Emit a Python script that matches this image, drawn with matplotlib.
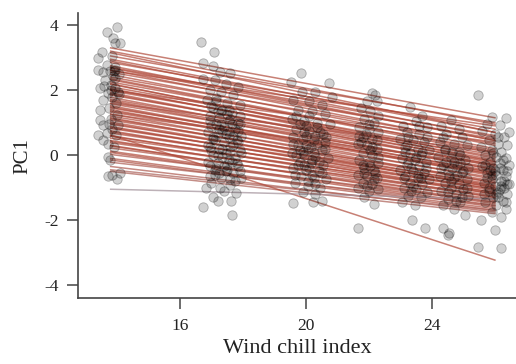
import numpy as np
import matplotlib
matplotlib.use('Agg')
import matplotlib.pyplot as plt
from matplotlib.colors import LinearSegmentedColormap

# Individual regression lines: fitted PC1 at the start and end of the range
LINE_X0 = 13.8
LINE_X1 = 26.0
line_start = [3.30, 3.20, 3.15, 3.05, 2.95, 2.90, 2.85, 2.75, 2.70, 2.68, 2.62, 2.60,
              2.55, 2.48, 2.40, 2.35, 2.32, 2.25, 2.20, 2.18, 2.10, 2.05, 2.02, 2.00,
              1.98, 1.92, 1.88, 1.85, 1.78, 1.72, 1.68, 1.65, 1.60, 1.58, 1.52, 1.48,
              1.45, 1.40, 1.36, 1.33, 1.27, 1.25, 1.20, 1.15, 1.12, 1.08, 1.02, 0.98,
              0.95, 0.88, 0.85, 0.82, 0.75, 0.72, 0.68, 0.60, 0.58, 0.52, 0.45, 0.42,
              0.38, 0.30, 0.28, 0.22, 0.12, 0.08, 0.02, -0.10, -0.15, -0.22, -0.35, -0.45,
              -0.50, 0.62, -1.05]
line_end = [1.15, 0.95, 0.70, 1.00, 0.70, 0.55, 0.80, 0.45, 0.60, 0.45, 0.30, 0.90,
            0.50, 0.20, 0.35, 0.10, 0.05, 0.15, -0.20, -0.10, 0.00, -0.25, -0.15, 0.40,
            -0.05, -0.35, -0.30, -0.20, -0.45, -0.30, -0.45, -0.55, 0.10, -0.40, -0.65, -0.60,
            -0.50, -0.75, -0.55, -0.60, -0.85, -0.30, -0.70, -0.95, -0.85, -0.80, -1.00, -1.00,
            -0.90, -1.10, -1.05, -0.95, -1.20, -1.15, -1.05, -1.30, -1.20, -1.15, -1.40, -1.30,
            -1.25, -1.50, -1.45, -1.35, -1.55, -1.60, -1.45, -1.65, -1.70, -1.55, -1.75, -1.70,
            -1.80, -3.23, -1.35]

# Observations, grouped by sampling occasion (wind chill index, PC1)
grp_a_x = [14.00, 13.68, 13.87, 13.94, 14.10, 13.52, 13.40, 13.85, 13.68, 13.40, 13.78, 13.95,
           13.55, 13.88, 14.05, 13.94, 13.62, 13.46, 13.94, 13.80, 14.02, 13.70, 13.85, 13.56,
           13.98, 13.46, 13.75, 14.00, 13.46, 13.80, 13.56, 14.02, 13.68, 13.40, 13.98, 13.85,
           13.56, 13.72, 13.90, 13.78, 13.72, 13.85, 14.00, 13.70, 14.10, 13.90, 13.60, 13.95,
           13.82, 14.05, 13.75]
grp_a_y = [3.94, 3.78, 3.60, 3.45, 3.45, 3.17, 2.98, 3.05, 2.77, 2.62, 2.60, 2.70,
           2.55, 2.45, 2.50, 2.37, 2.30, 2.06, 2.06, 2.15, 1.95, 1.90, 1.80, 1.70,
           1.60, 1.38, 1.45, 1.23, 1.08, 1.10, 0.92, 0.92, 0.68, 0.62, 0.62, 0.80,
           0.46, 0.35, 0.25, -0.15, -0.06, -0.60, -0.75, -0.65, -0.55, 2.58, 2.12, 2.62,
           2.00, 1.88, 0.95]

grp_b_x = [16.67, 17.08, 16.73, 17.05, 17.27, 17.60, 16.73, 17.10, 17.45, 17.85, 16.95, 17.30,
           17.70, 16.85, 17.15, 17.50, 17.90, 17.05, 17.35, 17.65, 16.95, 17.25, 17.55, 17.85,
           17.00, 17.40, 17.75, 16.90, 17.20, 17.55, 17.95, 17.10, 17.40, 17.70, 16.95, 17.25,
           17.60, 17.90, 17.05, 17.35, 17.75, 16.90, 17.20, 17.50, 17.85, 17.10, 17.45, 17.70,
           16.95, 17.30, 17.60, 17.95, 16.83, 17.27, 17.60, 17.78, 17.05, 17.20, 17.62, 16.73,
           17.65, 17.40, 17.15, 17.50, 17.80, 17.00, 17.45, 17.20, 17.65, 17.05, 17.35, 17.55,
           17.90, 17.15]
grp_b_y = [3.47, 3.17, 2.83, 2.74, 2.55, 2.52, 2.34, 2.30, 2.20, 2.10, 2.00, 1.95,
           1.85, 1.70, 1.75, 1.60, 1.55, 1.45, 1.40, 1.30, 1.20, 1.15, 1.05, 1.00,
           0.90, 0.85, 0.80, 0.70, 0.65, 0.55, 0.60, 0.45, 0.40, 0.30, 0.25, 0.20,
           0.10, 0.15, 0.00, -0.05, -0.10, -0.20, -0.25, -0.30, -0.35, -0.45, -0.50, -0.55,
           -0.65, -0.70, -0.75, -0.70, -1.00, -1.00, -0.92, -1.17, -1.30, -1.40, -1.40, -1.60,
           -1.85, -1.10, 0.95, 1.25, 0.45, -0.85, 0.05, 1.35, 0.95, 0.55, 0.75, -0.15,
           1.20, -0.40]
grp_b_core_x = [17.00, 17.30, 17.60, 17.90, 16.95, 17.25, 17.55, 17.85, 17.05, 17.35, 17.65, 17.95,
                16.90, 17.20, 17.50, 17.80, 17.10, 17.40, 17.70, 17.00, 17.30, 17.60, 17.90, 16.95,
                17.25, 17.55, 17.85, 17.15, 17.45, 17.75]
grp_b_core_y = [1.50, 1.35, 1.10, 0.95, 1.05, 0.80, 0.70, 0.40, 0.50, 0.20, -0.20, 0.05,
                0.30, 0.00, -0.45, -0.25, -0.60, -0.35, 0.60, 0.15, 0.95, 0.25, -0.50, -0.35,
                -0.55, 1.40, 0.75, 1.65, 0.65, -0.80]

grp_c_x = [19.84, 19.52, 20.73, 19.87, 20.28, 20.82, 19.60, 20.10, 20.50, 19.75, 20.20, 20.60,
           19.55, 19.95, 20.35, 20.75, 19.70, 20.10, 20.45, 19.60, 19.90, 20.25, 20.60, 19.75,
           20.15, 20.50, 19.55, 19.95, 20.30, 20.70, 19.80, 20.15, 20.55, 19.60, 20.00, 20.40,
           19.85, 20.25, 20.65, 19.65, 20.05, 20.45, 19.90, 20.30, 19.59, 20.22, 20.50, 20.00,
           20.35, 19.80, 20.20, 20.10, 19.95, 20.05]
grp_c_y = [2.52, 2.25, 2.22, 1.95, 1.95, 1.80, 1.70, 1.65, 1.55, 1.40, 1.35, 1.25,
           1.10, 1.05, 1.00, 0.95, 0.80, 0.75, 0.70, 0.55, 0.50, 0.45, 0.40, 0.30,
           0.25, 0.15, 0.05, 0.00, -0.05, -0.10, -0.20, -0.25, -0.30, -0.40, -0.45, -0.50,
           -0.65, -0.70, -0.75, -0.86, -0.95, -1.00, -1.15, -1.20, -1.48, -1.45, -1.40, 0.60,
           0.35, 0.15, -0.60, 1.20, -0.30, 0.20]
grp_c_core_x = [19.70, 20.00, 20.30, 20.60, 19.60, 19.90, 20.20, 20.50, 19.75, 20.05, 20.35, 20.65,
                19.65, 19.95, 20.25, 20.55, 19.80, 20.10, 20.40, 19.70, 20.00, 20.30]
grp_c_core_y = [1.20, 0.90, 0.60, 0.20, 0.35, 0.10, -0.15, -0.55, -0.30, -0.80, 0.85, 0.55,
                -0.60, 0.70, 0.05, 0.65, 0.95, -0.40, -0.20, 0.00, 0.30, -0.90]

grp_d_x = [22.10, 22.20, 21.95, 22.25, 21.75, 22.05, 22.30, 21.85, 22.15, 21.70, 22.00, 22.30,
           21.80, 22.10, 21.65, 21.95, 22.25, 21.80, 22.10, 21.70, 22.00, 22.30, 21.85, 22.15,
           21.65, 21.95, 22.25, 21.80, 22.10, 21.65, 22.00, 22.30, 21.85, 21.65, 22.15, 21.90,
           22.05, 21.75, 22.05, 22.30, 21.85, 22.15, 21.70, 22.00, 22.25, 21.80, 22.10, 21.95,
           22.20]
grp_d_y = [1.90, 1.85, 1.65, 1.65, 1.45, 1.35, 1.20, 1.10, 1.00, 0.85, 0.80, 0.70,
           0.55, 0.50, 0.35, 0.30, 0.20, 0.05, 0.00, -0.15, -0.20, -0.25, -0.40, -0.45,
           -0.60, -0.65, -0.70, -0.85, -0.90, -1.00, -1.10, -1.05, -1.30, -2.25, -1.50, 0.65,
           -0.35, 0.40, 0.15, -0.05, -0.55, -0.75, 0.60, 0.95, 0.45, -0.30, 0.25, -0.95,
           -0.55]

grp_e_x = [23.30, 23.70, 23.08, 23.50, 23.85, 23.20, 23.60, 23.00, 23.40, 23.75, 23.15, 23.55,
           23.90, 23.30, 23.65, 23.05, 23.45, 23.80, 23.20, 23.60, 23.00, 23.40, 23.75, 23.15,
           23.55, 23.90, 23.30, 23.70, 23.10, 23.50, 23.85, 23.25, 23.65, 23.05, 23.45, 23.37,
           23.78, 23.60, 23.35, 23.25, 23.20, 23.50, 23.80, 23.10, 23.40, 23.70, 23.25, 23.55,
           23.85, 23.35, 23.65, 23.15]
grp_e_y = [1.47, 1.20, 0.90, 1.05, 0.85, 0.70, 0.65, 0.50, 0.45, 0.40, 0.25, 0.20,
           0.15, 0.05, 0.00, -0.10, -0.15, -0.20, -0.30, -0.35, -0.45, -0.50, -0.55, -0.65,
           -0.70, -0.75, -0.85, -0.90, -1.00, -1.05, -1.15, -1.25, -1.30, -1.45, -1.55, -2.00,
           -2.25, 0.90, -0.40, 0.55, 0.30, -0.05, -0.40, -0.70, -0.95, 0.10, -0.20, -0.60,
           0.55, -1.10, -0.70, 0.10]

grp_f_x = [24.60, 24.30, 24.85, 24.45, 24.95, 24.25, 24.70, 25.10, 24.40, 24.85, 24.20, 24.60,
           25.05, 24.35, 24.80, 25.15, 24.50, 24.95, 24.25, 24.70, 25.10, 24.40, 24.85, 24.60,
           25.00, 24.30, 24.75, 25.15, 24.50, 24.90, 24.35, 24.70, 24.35, 24.50, 24.55, 25.05,
           24.65, 24.45, 24.90, 24.40, 24.70, 25.00, 24.30, 24.60, 24.90, 24.50, 24.80, 25.10,
           24.35, 24.65, 24.95, 24.55, 24.75]
grp_f_y = [1.08, 0.90, 0.80, 0.65, 0.55, 0.40, 0.35, 0.30, 0.15, 0.10, -0.05, -0.10,
           -0.15, -0.30, -0.35, -0.40, -0.50, -0.55, -0.65, -0.70, -0.75, -0.85, -0.90, -1.00,
           -1.05, -1.10, -1.20, -1.25, -1.35, -1.45, -1.55, -1.65, -2.25, -2.45, -2.40, -1.85,
           -0.40, -0.20, -0.25, 0.20, -0.20, -0.50, -0.40, -0.80, 0.00, -1.15, -0.60, -1.00,
           0.55, 0.10, -1.30, -0.65, -1.40]

grp_g_x = [25.46, 25.90, 26.35, 26.16, 25.75, 26.45, 25.60, 26.00, 26.30, 25.80, 26.10, 26.40,
           25.55, 25.90, 26.20, 25.70, 26.05, 26.35, 25.85, 26.15, 26.45, 25.60, 25.95, 26.25,
           25.75, 26.05, 26.35, 25.90, 26.20, 25.65, 26.00, 26.30, 25.80, 26.10, 26.40, 25.95,
           26.25, 25.70, 26.05, 26.35, 25.90, 26.20, 25.55, 26.00, 25.46, 26.19, 26.45, 25.85,
           26.15, 26.10, 25.70, 26.00, 26.30, 25.80, 26.10, 26.40, 25.90, 26.20, 25.75, 26.05,
           26.35, 25.95, 26.25, 25.65, 26.15, 26.40]
grp_g_y = [1.85, 1.17, 1.14, 0.92, 0.95, 0.70, 0.75, 0.65, 0.55, 0.45, 0.35, 0.30,
           0.25, 0.15, 0.10, 0.00, -0.05, -0.10, -0.20, -0.25, -0.30, -0.35, -0.40, -0.45,
           -0.55, -0.60, -0.65, -0.75, -0.80, -0.85, -0.95, -1.00, -1.10, -1.15, -1.20, -1.30,
           -1.40, -1.45, -1.55, -1.65, -1.75, -1.90, -2.00, -2.30, -2.83, -2.86, -0.90, -0.45,
           -1.05, 0.55, -0.30, -0.50, -0.80, -1.00, -1.30, -0.50, -0.60, -0.95, -0.70, -1.20,
           -1.45, 0.05, -0.15, -1.20, -0.40, -0.90]

obs_x = (grp_a_x + grp_b_x + grp_b_core_x + grp_c_x + grp_c_core_x
         + grp_d_x + grp_e_x + grp_f_x + grp_g_x)
obs_y = (grp_a_y + grp_b_y + grp_b_core_y + grp_c_y + grp_c_core_y
         + grp_d_y + grp_e_y + grp_f_y + grp_g_y)

plt.rcParams['font.family'] = ['Liberation Serif', 'DejaVu Serif']

fig = plt.figure(figsize=(5.16, 3.64), dpi=100)
ax = fig.add_axes([0.151, 0.181, 0.849, 0.783])

# colour each line by its slope: flat lines greyish, steep lines brick red
cmap = LinearSegmentedColormap.from_list('slope', ['#a0939c', '#b04a3a'])
for y0, y1 in zip(line_start, line_end):
    slope = (y1 - y0) / (LINE_X1 - LINE_X0)
    c = cmap(np.clip((-slope - 0.02) / 0.12, 0, 1))
    ax.plot([LINE_X0, LINE_X1], [y0, y1], color=c, lw=1.1, alpha=0.7, zorder=2)

# points on top so the dense cores darken
ax.scatter(obs_x, obs_y, s=46, facecolor=(0, 0, 0, 0.18),
           edgecolor=(0, 0, 0, 0.28), linewidth=0.6, zorder=3)

ax.set_xlim(12.76, 26.67)
ax.set_ylim(-4.4, 4.37)
ax.set_xticks([16, 20, 24])
ax.set_yticks([-4, -2, 0, 2, 4])
ax.set_yticklabels(['-4', '-2', '0', '2', '4'])

for side in ['top', 'right']:
    ax.spines[side].set_visible(False)
for side in ['left', 'bottom']:
    ax.spines[side].set_color('#444444')
    ax.spines[side].set_linewidth(1.2)
ax.tick_params(length=8, width=1.1, color='#444444', labelsize=12.5,
               labelcolor='#222222', pad=6)

ax.set_xlabel('Wind chill index', fontsize=16, color='#222222', labelpad=4)
ax.set_ylabel('PC1', fontsize=15, color='#222222', labelpad=8)

fig.savefig('out.png', dpi=100)
